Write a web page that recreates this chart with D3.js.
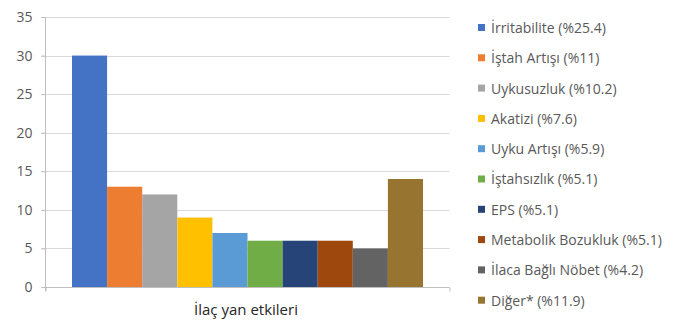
<!DOCTYPE html>
<html><head><meta charset="utf-8">
<script src="https://cdn.jsdelivr.net/npm/d3@7"></script>
<style>body{margin:0;background:#fff}svg{display:block}text{font-family:"Open Sans",sans-serif}</style>
</head><body>
<svg id="c" width="679" height="320"></svg>
<script>
const categories = ["İrritabilite (%25.4)","İştah Artışı (%11)","Uykusuzluk (%10.2)","Akatizi (%7.6)","Uyku Artışı (%5.9)","İştahsızlık (%5.1)","EPS (%5.1)","Metabolik Bozukluk (%5.1)","İlaca Bağlı Nöbet (%4.2)","Diğer* (%11.9)"];
const values = [30,13,12,9,7,6,6,6,5,14];
const colors = ["#4472C4","#ED7D31","#A5A5A5","#FFC000","#5B9BD5","#70AD47","#264478","#9E480E","#636363","#977430"];
const yTicks = [0,5,10,15,20,25,30,35];
const xLabel = "İlaç yan etkileri";

(function(){
const svg = d3.select("#c");
const mL = 45.5, mR = 449.5, mT = 17, mB = 287;
const y = d3.scaleLinear().domain([0,35]).range([mB, mT]);
const x = d3.scaleBand().domain(categories).range([72, 423]).padding(0);

svg.append("g").selectAll("line").data(yTicks.filter(d=>d>0)).join("line")
  .attr("x1", 41).attr("x2", mR).attr("y1", d=>Math.round(y(d))+0.5).attr("y2", d=>Math.round(y(d))+0.5)
  .attr("stroke","#d9d9d9").attr("stroke-width",1);

svg.append("g").selectAll("rect").data(values).join("rect")
  .attr("x",(d,i)=>x(categories[i])).attr("width",x.bandwidth())
  .attr("y",d=>y(d)).attr("height",d=>y(0)-y(d))
  .attr("fill",(d,i)=>colors[i]);

const yAxis = d3.axisLeft(y).tickValues(yTicks).tickSize(4).tickPadding(9);
const gy = svg.append("g").attr("transform",`translate(${mL},0)`).call(yAxis);
gy.select(".domain").attr("stroke","#bfbfbf").attr("d",`M0,${mT}V${mB+4}`);
gy.selectAll(".tick line").attr("stroke","#bfbfbf");
gy.selectAll(".tick text").attr("fill","#595959").style("font-size","14px").style("font-family","'Open Sans',sans-serif");

const xAxis = d3.axisBottom(d3.scaleLinear().domain([0,1]).range([mL,mR])).tickValues([0,1]).tickSize(4).tickFormat("");
const gx = svg.append("g").attr("transform",`translate(0,${Math.round(y(0))+0.5})`).call(xAxis);
gx.select(".domain").attr("stroke","#bfbfbf").attr("d",`M${mL-4},0H${mR}`);
gx.selectAll(".tick line").attr("stroke","#bfbfbf");

svg.append("text").attr("x",246).attr("y",315).attr("text-anchor","middle")
  .attr("fill","#262626").style("font-size","15px").text(xLabel);

const lg = svg.append("g");
const rows = lg.selectAll("g").data(categories).join("g")
  .attr("transform",(d,i)=>`translate(478,${28+i*30.3})`);
rows.append("rect").attr("x",0).attr("y",-4).attr("width",7).attr("height",7).attr("fill",(d,i)=>colors[i]);
rows.append("text").attr("x",13).attr("y",0).attr("dy","0.35em").attr("fill","#595959").style("font-size","14px").text(d=>d);
})();
</script>
</body></html>
